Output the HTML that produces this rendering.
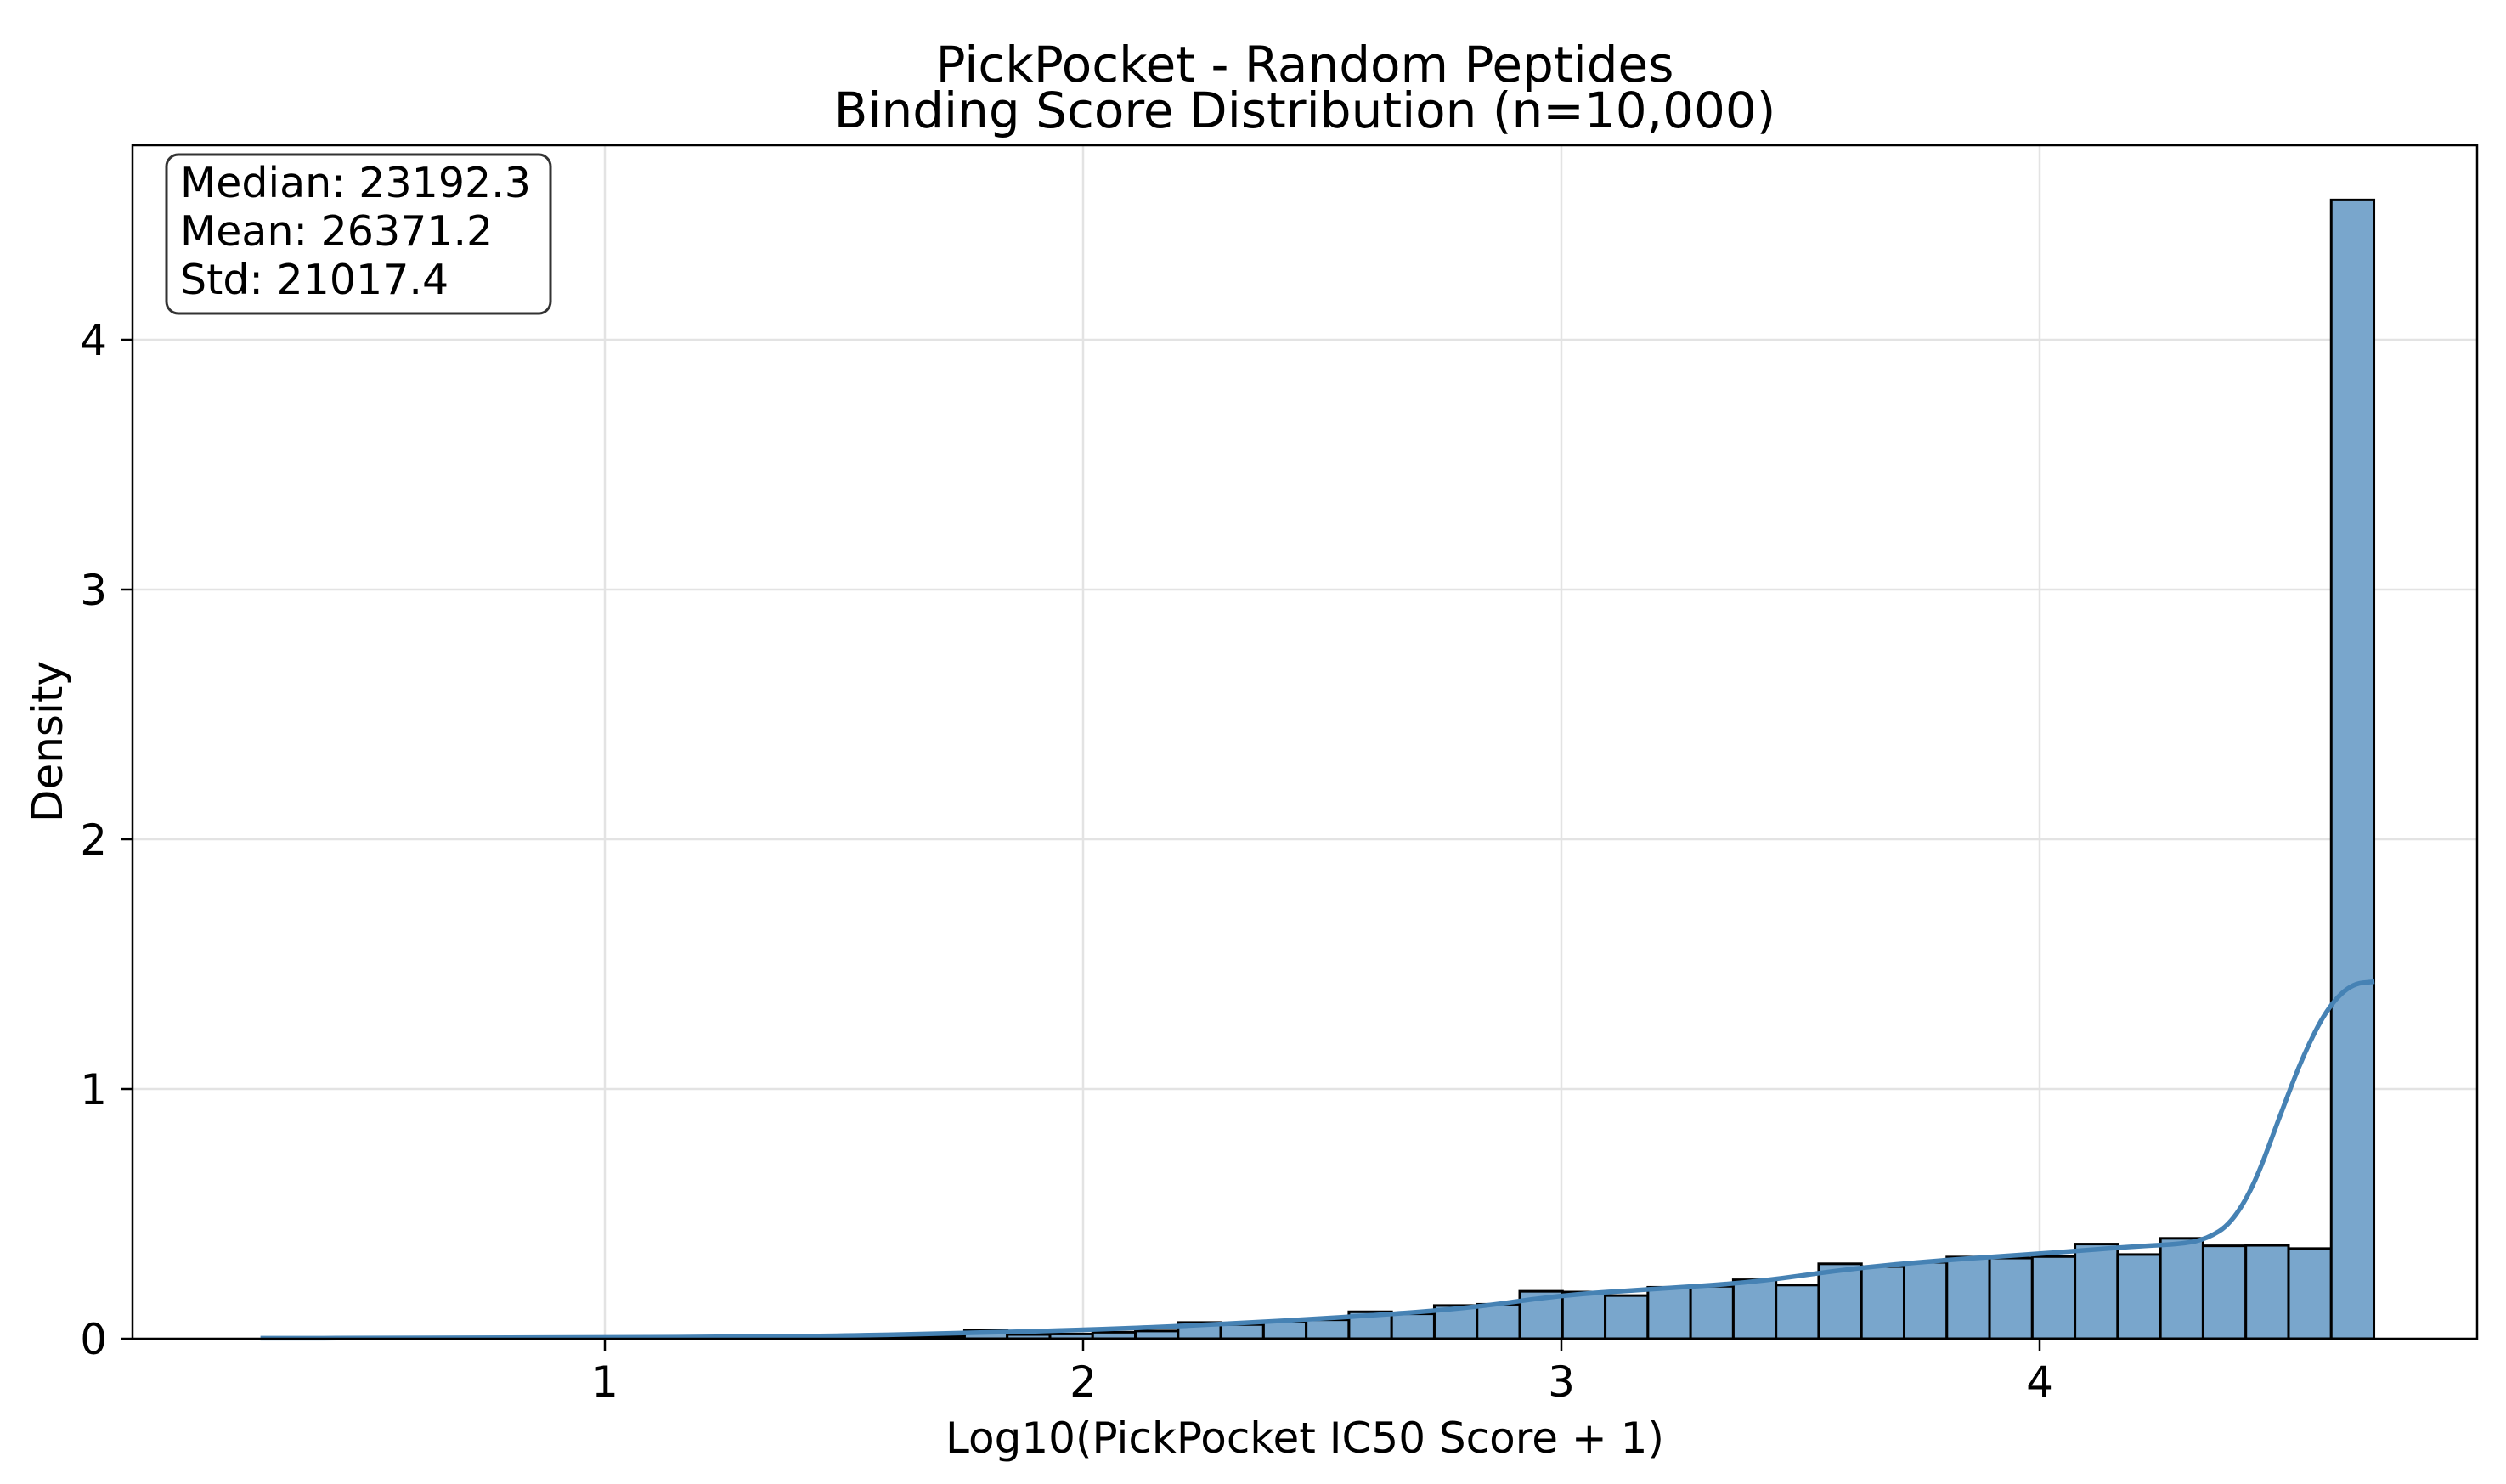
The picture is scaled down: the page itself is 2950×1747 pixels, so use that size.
<!DOCTYPE html>
<html><head><meta charset="utf-8"><style>
html,body{margin:0;padding:0;background:#fff;}
svg{display:block;font-family:"DejaVu Sans","Liberation Sans",sans-serif;}
</style></head><body>
<svg id="chart" width="2950" height="1747" viewBox="0 0 2950 1747" xmlns="http://www.w3.org/2000/svg">
<rect width="2950" height="1747" fill="#fff"/>
<text x="1536" y="96" font-size="58" text-anchor="middle">PickPocket - Random Peptides</text>
<text x="1536" y="150" font-size="58" text-anchor="middle">Binding Score Distribution (n=10,000)</text>
<g id="grid"></g>
<g id="bars"></g>
<g id="kde"></g>
<rect x="156" y="171" width="2760" height="1405" fill="none" stroke="#000" stroke-width="2.5"/>
<g id="ticks"></g>
<text x="1536" y="1710" font-size="50" text-anchor="middle">Log10(PickPocket IC50 Score + 1)</text>
<text x="0" y="0" font-size="50" text-anchor="middle" transform="translate(73,873) rotate(-90)">Density</text>
<g>
<rect x="196" y="182" width="452" height="187" rx="14" fill="#fff" stroke="#333" stroke-width="3"/>
<text x="212" y="232" font-size="49">Median: 23192.3</text>
<text x="212" y="289" font-size="49">Mean: 26371.2</text>
<text x="212" y="346" font-size="49">Std: 21017.4</text>
</g>
</svg>
<script>
const binStart = 0.234;
const binWidth = 0.0893;
const densities = [0,0,0,0,0,0,0,0,0,0,0,0.008,0.003,0.004,0.006,0.008,
0.009,0.034,0.017,0.019,0.026,0.031,0.065,0.057,0.068,0.076,0.108,0.1,0.133,0.138,
0.190,0.187,0.173,0.206,0.210,0.236,0.215,0.300,0.289,0.306,0.327,0.323,0.329,0.379,0.337,0.402,0.372,0.374,0.361,4.56];
const kdeX = [0.28,0.6,1.0,1.3,1.5,1.8,2.0,2.2,2.5,2.8,3.0,3.2,3.4,3.6,3.8,4.0,4.2,4.3,4.35,4.4,4.45,4.5,4.55,4.6,4.65,4.70];
const kdeY = [0.002,0.003,0.005,0.008,0.012,0.025,0.035,0.05,0.08,0.12,0.175,0.2,0.225,0.28,0.315,0.34,0.37,0.38,0.40,0.46,0.62,0.88,1.13,1.32,1.42,1.43];
const xTicks = [1,2,3,4];
const yTicks = [0,1,2,3,4];

const NS = "http://www.w3.org/2000/svg";
const X = v => 712 + (v - 1) * 563;
const Y = v => 1576 - v * 294;
function mk(tag, attrs, parent){const e=document.createElementNS(NS,tag);for(const k in attrs)e.setAttribute(k,attrs[k]);parent.appendChild(e);return e;}

const grid = document.getElementById('grid');
xTicks.forEach(t=>{const l=mk('line',{x1:X(t),x2:X(t),y1:171,y2:1576,stroke:'#e3e3e3','stroke-width':2.5},grid);

});
yTicks.forEach(t=>{const l=mk('line',{x1:156,x2:2916,y1:Y(t),y2:Y(t),stroke:'#e3e3e3','stroke-width':2.5},grid);

});

const bars = document.getElementById('bars');
densities.forEach((d,i)=>{
  const x0 = X(binStart + i*binWidth), x1 = X(binStart + (i+1)*binWidth);
  const r = mk('rect',{x:x0,y:Y(d),width:x1-x0,height:Y(0)-Y(d),fill:'#79a6cc',stroke:'#000','stroke-width':3},bars);
  
  
});

const kde = document.getElementById('kde');
let dstr = 'M' + X(kdeX[0]).toFixed(1) + ',' + Y(kdeY[0]).toFixed(1);
for (let i = 1; i < kdeX.length; i++) {
  const x0 = X(kdeX[i-1]), y0 = Y(kdeY[i-1]), x1 = X(kdeX[i]), y1 = Y(kdeY[i]);
  const xm = (x0 + x1) / 2;
  dstr += ' Q' + x0.toFixed(1) + ',' + y0.toFixed(1) + ' ' + xm.toFixed(1) + ',' + ((y0 + y1) / 2).toFixed(1);
}
dstr += ' L' + X(kdeX[kdeX.length-1]).toFixed(1) + ',' + Y(kdeY[kdeY.length-1]).toFixed(1);
const p = mk('path',{d:dstr,fill:'none',stroke:'#4682b4','stroke-width':5.5,'stroke-linejoin':'round'},kde);



const ticks = document.getElementById('ticks');
xTicks.forEach(t=>{
  const l=mk('line',{x1:X(t),x2:X(t),y1:1576,y2:1590,stroke:'#000','stroke-width':2.5},ticks);
  
  
  const tx=mk('text',{x:X(t),y:1644,'font-size':50,'text-anchor':'middle'},ticks);
  tx.textContent=String(t);
  
  
});
yTicks.forEach(t=>{
  const l=mk('line',{x1:142,x2:156,y1:Y(t),y2:Y(t),stroke:'#000','stroke-width':2.5},ticks);
  
  
  const tx=mk('text',{x:126,y:Y(t)+18,'font-size':50,'text-anchor':'end'},ticks);
  tx.textContent=String(t);
  
  
});
</script>
</body></html>
